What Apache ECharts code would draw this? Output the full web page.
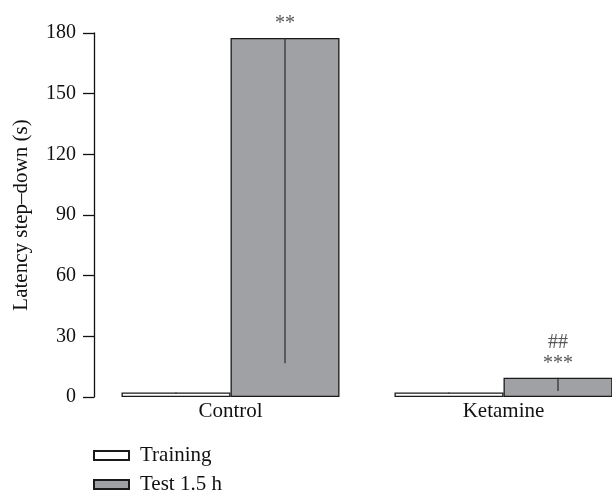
<!DOCTYPE html>
<html>
<head>
<meta charset="utf-8">
<script src="https://cdn.jsdelivr.net/npm/echarts@6/dist/echarts.min.js"></script>
<style>
  html, body { margin: 0; padding: 0; background: #fff; overflow: hidden; }
  body { width: 612px; height: 496px; }
  /* plot area runs past the right edge of the page, so the last bar is cut off */
  #chart { width: 640px; height: 496px; }
</style>
</head>
<body>
<div id="chart"></div>
<script>
// Groups and measured latencies (mean with lower/upper error bounds, seconds)
const categories = ['Control', 'Ketamine'];
const seriesNames = ['Training', 'Test 1.5 h'];
const trainingMean = [2.2, 2.2];
const trainingErrLow = [1.7, 1.7];
const trainingErrHigh = [2.2, 2.2];
const testMean = [177.5, 9.5];
const testErrLow = [16.7, 3.0];
const testErrHigh = [177.5, 9.5];
const testMarks = ['**', '##\n***'];
const yTicks = { min: 0, max: 180, step: 30 };

const FONT = '"Liberation Serif", "DejaVu Serif", serif';
const BAR_W = 109;
const chart = echarts.init(document.getElementById('chart'), null, { renderer: 'canvas' });

// Vertical error line drawn at the centre of the matching bar
function errorSeries(seriesIndex, low, high) {
  return {
    type: 'custom',
    silent: true,
    z: 5,
    data: categories.map((c, i) => [i, low[i], high[i]]),
    renderItem: function (params, api) {
      const idx = api.value(0);
      const center = api.coord([idx, 0])[0] + (seriesIndex === 0 ? -BAR_W / 2 : BAR_W / 2);
      const p1 = api.coord([idx, api.value(1)]);
      const p2 = api.coord([idx, api.value(2)]);
      return {
        type: 'line',
        shape: { x1: center, y1: p1[1], x2: center, y2: p2[1] },
        style: { stroke: '#2a2a2a', lineWidth: 1.2 }
      };
    }
  };
}

const option = {
  animation: false,
  backgroundColor: '#fff',
  textStyle: { fontFamily: FONT },
  grid: { left: 94, top: 33, right: 0, height: 364, containLabel: false },
  legend: {
    orient: 'vertical',
    left: 93,
    top: 445,
    padding: 0,
    itemWidth: 35,
    itemHeight: 9,
    itemGap: 8,
    icon: 'rect',
    data: seriesNames,
    textStyle: { fontFamily: FONT, fontSize: 21, lineHeight: 20, color: '#111', padding: [0, 0, 0, 6] }
  },
  xAxis: {
    type: 'category',
    data: categories,
    axisLine: { show: false },
    axisTick: { show: false },
    axisLabel: { fontFamily: FONT, fontSize: 21, color: '#111', margin: 4 }
  },
  yAxis: {
    type: 'value',
    min: yTicks.min,
    max: yTicks.max,
    interval: yTicks.step,
    name: 'Latency step–down (s)',
    nameLocation: 'middle',
    nameGap: 62,
    nameTextStyle: { fontFamily: FONT, fontSize: 21, color: '#111' },
    axisLine: { show: true, lineStyle: { color: '#111', width: 1.3 } },
    axisTick: { show: true, length: 11, lineStyle: { color: '#111', width: 1.3 } },
    axisLabel: { fontFamily: FONT, fontSize: 20, color: '#111', margin: 18 },
    splitLine: { show: false }
  },
  series: [
    {
      name: seriesNames[0],
      type: 'bar',
      data: trainingMean,
      barWidth: BAR_W,
      barGap: '0%',
      itemStyle: { color: '#ffffff', borderColor: '#1a1a1a', borderWidth: 1.3 }
    },
    {
      name: seriesNames[1],
      type: 'bar',
      data: testMean,
      barWidth: BAR_W,
      itemStyle: { color: '#a0a1a5', borderColor: '#1a1a1a', borderWidth: 1.3 },
      label: {
        show: true,
        position: 'top',
        distance: 4,
        fontFamily: FONT,
        fontSize: 20,
        lineHeight: 21,
        color: '#555',
        formatter: (p) => testMarks[p.dataIndex]
      }
    },
    errorSeries(0, trainingErrLow, trainingErrHigh),
    errorSeries(1, testErrLow, testErrHigh)
  ]
};
chart.setOption(option);
</script>
</body>
</html>
